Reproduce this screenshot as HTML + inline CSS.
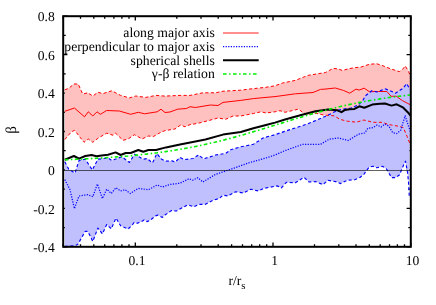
<!DOCTYPE html>
<html><head><meta charset="utf-8"><title>plot</title>
<style>html,body{margin:0;padding:0;background:#fff}svg{display:block}.t,.t text,.t tspan{font-family:"Liberation Serif",serif;text-rendering:geometricPrecision}</style></head>
<body>
<svg width="436" height="305" viewBox="0 0 436 305">
<defs><clipPath id="c"><rect x="63.2" y="16.2" width="347.6" height="230.6"/></clipPath></defs>
<rect width="436" height="305" fill="#fff"/>
<path d="M63.2 246.8h4.2 M410.8 246.8h-4.2 M63.2 227.6h2.5 M410.8 227.6h-2.5 M63.2 208.4h4.2 M410.8 208.4h-4.2 M63.2 189.1h2.5 M410.8 189.1h-2.5 M63.2 169.9h4.2 M410.8 169.9h-4.2 M63.2 150.7h2.5 M410.8 150.7h-2.5 M63.2 131.5h4.2 M410.8 131.5h-4.2 M63.2 112.3h2.5 M410.8 112.3h-2.5 M63.2 93.1h4.2 M410.8 93.1h-4.2 M63.2 73.8h2.5 M410.8 73.8h-2.5 M63.2 54.6h4.2 M410.8 54.6h-4.2 M63.2 35.4h2.5 M410.8 35.4h-2.5 M63.2 16.2h4.2 M410.8 16.2h-4.2 M63.2 246.8v-2.5 M63.2 16.2v2.5 M80.5 246.8v-2.5 M80.5 16.2v2.5 M93.8 246.8v-2.5 M93.8 16.2v2.5 M104.7 246.8v-2.5 M104.7 16.2v2.5 M113.9 246.8v-2.5 M113.9 16.2v2.5 M121.9 246.8v-2.5 M121.9 16.2v2.5 M129.0 246.8v-2.5 M129.0 16.2v2.5 M135.3 246.8v-4.2 M135.3 16.2v4.2 M176.8 246.8v-2.5 M176.8 16.2v2.5 M201.0 246.8v-2.5 M201.0 16.2v2.5 M218.2 246.8v-2.5 M218.2 16.2v2.5 M231.6 246.8v-2.5 M231.6 16.2v2.5 M242.5 246.8v-2.5 M242.5 16.2v2.5 M251.7 246.8v-2.5 M251.7 16.2v2.5 M259.7 246.8v-2.5 M259.7 16.2v2.5 M266.7 246.8v-2.5 M266.7 16.2v2.5 M273.0 246.8v-4.2 M273.0 16.2v4.2 M314.5 246.8v-2.5 M314.5 16.2v2.5 M338.8 246.8v-2.5 M338.8 16.2v2.5 M356.0 246.8v-2.5 M356.0 16.2v2.5 M369.3 246.8v-2.5 M369.3 16.2v2.5 M380.2 246.8v-2.5 M380.2 16.2v2.5 M389.5 246.8v-2.5 M389.5 16.2v2.5 M397.4 246.8v-2.5 M397.4 16.2v2.5 M404.5 246.8v-2.5 M404.5 16.2v2.5 M410.8 246.8v-4.2 M410.8 16.2v4.2" stroke="#000" stroke-width="1.3" fill="none"/>
<g clip-path="url(#c)" fill="none" stroke-linejoin="round">
<polygon fill="#ffc0c0" points="64.8,89.8 68.8,88.3 73.9,84.0 78.2,84.0 82.7,94.0 87.8,92.8 92.8,96.0 97.9,92.3 103.0,93.6 111.8,90.8 120.6,95.4 129.4,97.9 135.8,96.0 145.9,97.4 156.0,95.4 165.0,96.1 180.0,95.4 190.0,95.4 203.0,92.8 215.5,92.8 223.0,91.2 240.8,90.2 248.3,89.2 266.0,87.3 275.0,85.8 282.6,83.0 295.3,80.4 307.9,75.4 325.6,72.5 329.1,70.5 333.3,68.4 338.4,69.0 342.5,70.5 347.7,69.0 353.9,67.8 361.1,67.0 369.4,64.3 376.6,63.7 382.8,65.7 391.1,69.0 399.3,71.6 402.4,69.5 405.3,65.9 408.6,71.5 410.4,76.0 410.4,145.0 407.2,136.7 403.3,127.6 399.4,126.4 388.9,124.6 382.3,122.3 373.0,122.3 364.0,120.0 356.3,122.2 347.3,121.2 340.1,119.4 334.0,115.8 330.6,115.6 324.0,115.1 316.0,113.3 309.0,114.6 303.5,113.1 298.6,109.1 285.0,112.3 280.0,110.7 275.0,111.8 266.0,113.0 261.0,111.8 253.4,113.5 240.8,116.0 233.0,116.0 225.6,119.3 218.0,118.0 210.0,120.2 200.0,122.8 194.0,124.0 190.0,124.6 185.0,126.8 180.6,125.0 175.0,129.0 170.0,129.8 165.0,130.6 161.0,132.2 153.4,136.5 148.4,136.0 142.0,139.0 134.5,134.7 128.0,139.0 123.0,140.3 115.6,133.2 113.0,135.3 106.7,133.2 97.9,138.3 92.8,142.3 88.3,139.0 84.0,142.3 74.6,130.3 71.2,132.0 64.8,139.6"/>
<polygon fill="#c0c0ff" points="64.8,161.8 68.8,169.3 75.0,173.0 79.0,160.5 85.3,159.2 92.3,170.0 97.9,159.2 108.0,158.0 111.8,160.5 121.9,156.7 129.4,162.5 134.5,154.2 143.3,159.2 147.0,158.5 152.5,163.0 156.9,153.6 161.7,159.3 165.7,161.2 172.1,160.9 175.3,162.0 180.1,157.3 184.1,159.6 193.0,158.5 198.6,154.9 203.4,158.9 210.0,156.9 215.5,155.0 225.6,153.4 230.7,149.8 240.8,146.8 253.4,144.3 263.5,137.8 275.0,134.7 287.7,130.4 307.9,123.8 325.6,116.3 338.2,110.0 350.8,108.0 358.4,105.0 363.4,99.6 365.2,96.0 371.8,90.7 377.0,92.0 385.0,88.8 390.2,90.7 395.4,93.3 403.3,88.0 406.7,83.6 410.0,89.4 409.3,197.0 408.5,182.0 407.4,171.5 405.5,161.2 403.3,165.7 399.4,175.0 395.4,177.6 391.5,177.6 386.2,168.4 382.3,166.3 377.0,167.8 373.0,166.3 369.2,167.0 364.0,174.1 360.0,177.5 354.6,179.8 347.0,180.3 340.7,183.6 335.7,181.6 328.0,180.3 323.0,184.6 315.5,181.6 309.0,182.0 304.0,177.3 295.3,182.8 286.4,182.3 281.4,187.9 277.6,185.9 270.0,187.2 263.5,188.4 258.4,191.0 250.9,189.2 243.3,193.0 235.7,191.7 228.0,196.0 223.0,195.2 219.3,198.5 213.0,200.3 205.4,204.3 199.0,204.3 194.0,206.8 187.7,204.8 176.4,211.0 171.3,210.6 168.2,212.8 165.0,215.0 162.4,217.4 157.8,215.1 155.6,215.9 149.8,220.5 147.0,221.6 144.1,219.9 141.2,221.6 137.2,223.3 134.3,222.4 132.6,224.5 128.0,229.1 120.6,225.8 116.0,218.0 111.3,228.8 106.7,224.5 102.4,233.9 97.9,228.0 92.8,241.4 87.8,231.3 85.3,231.3 77.7,244.5 75.0,245.6 70.0,246.2 64.8,246.2"/>
<polyline stroke="#ff0000" stroke-width="1" points="64.8,111.3 74.4,108.0 84.5,116.8 88.3,111.8 92.8,116.0 97.0,111.8 100.4,114.3 106.7,110.5 119.3,111.0 130.7,114.3 138.3,112.3 144.6,113.8 157.2,111.8 161.0,109.2 165.0,112.5 170.0,112.0 177.6,109.2 186.5,108.5 190.0,106.7 195.3,107.5 210.5,105.0 218.0,105.5 223.0,102.4 240.8,100.4 253.4,98.6 266.0,97.4 275.0,96.6 295.3,93.8 313.0,92.5 320.5,89.4 325.0,89.1 335.3,88.0 343.6,90.5 349.8,93.2 356.0,89.1 359.1,90.1 364.2,88.2 369.4,91.7 378.7,91.5 386.9,91.5 391.1,96.3 396.2,96.2 402.4,100.6 410.4,104.8"/>
<polyline stroke="#ff0000" stroke-width="1.0" stroke-dasharray="3.2,2.3" points="64.8,89.8 68.8,88.3 73.9,84.0 78.2,84.0 82.7,94.0 87.8,92.8 92.8,96.0 97.9,92.3 103.0,93.6 111.8,90.8 120.6,95.4 129.4,97.9 135.8,96.0 145.9,97.4 156.0,95.4 165.0,96.1 180.0,95.4 190.0,95.4 203.0,92.8 215.5,92.8 223.0,91.2 240.8,90.2 248.3,89.2 266.0,87.3 275.0,85.8 282.6,83.0 295.3,80.4 307.9,75.4 325.6,72.5 329.1,70.5 333.3,68.4 338.4,69.0 342.5,70.5 347.7,69.0 353.9,67.8 361.1,67.0 369.4,64.3 376.6,63.7 382.8,65.7 391.1,69.0 399.3,71.6 402.4,69.5 405.3,65.9 408.6,71.5 410.4,76.0"/>
<polyline stroke="#ff0000" stroke-width="1.0" stroke-dasharray="3.2,2.3" points="64.8,139.6 71.2,132.0 74.6,130.3 84.0,142.3 88.3,139.0 92.8,142.3 97.9,138.3 106.7,133.2 113.0,135.3 115.6,133.2 123.0,140.3 128.0,139.0 134.5,134.7 142.0,139.0 148.4,136.0 153.4,136.5 161.0,132.2 165.0,130.6 170.0,129.8 175.0,129.0 180.6,125.0 185.0,126.8 190.0,124.6 194.0,124.0 200.0,122.8 210.0,120.2 218.0,118.0 225.6,119.3 233.0,116.0 240.8,116.0 253.4,113.5 261.0,111.8 266.0,113.0 275.0,111.8 280.0,110.7 285.0,112.3 298.6,109.1 303.5,113.1 309.0,114.6 316.0,113.3 324.0,115.1 330.6,115.6 334.0,115.8 340.1,119.4 347.3,121.2 356.3,122.2 364.0,120.0 373.0,122.3 382.3,122.3 388.9,124.6 399.4,126.4 403.3,127.6 407.2,136.7 410.4,145.0"/>
<polyline stroke="#0000ff" stroke-width="1.25" stroke-dasharray="1.2,1.4" points="64.8,179.6 70.0,189.7 74.4,208.6 79.0,196.0 87.8,194.7 92.8,196.7 97.4,184.0 102.4,198.5 106.7,189.2 111.3,193.5 116.0,187.7 120.6,191.0 125.0,189.7 130.2,193.5 138.3,188.4 148.4,189.7 157.2,185.0 162.3,187.0 170.0,184.5 180.0,183.2 189.0,178.7 192.8,180.2 197.8,177.7 202.9,182.0 215.5,174.4 230.7,169.3 248.3,163.0 266.0,158.0 275.0,155.0 285.0,150.6 302.8,144.3 320.5,144.3 329.3,139.2 338.2,138.0 348.3,140.5 358.4,134.2 364.7,133.0 367.9,128.3 373.0,127.6 377.0,125.0 381.0,127.0 385.0,124.0 388.9,126.2 392.8,132.8 396.7,133.6 400.7,130.2 405.1,115.7 408.5,126.2 410.4,131.5"/>
<polyline stroke="#0000ff" stroke-width="1.15" stroke-dasharray="3.1,2.4" points="64.8,161.8 68.8,169.3 75.0,173.0 79.0,160.5 85.3,159.2 92.3,170.0 97.9,159.2 108.0,158.0 111.8,160.5 121.9,156.7 129.4,162.5 134.5,154.2 143.3,159.2 147.0,158.5 152.5,163.0 156.9,153.6 161.7,159.3 165.7,161.2 172.1,160.9 175.3,162.0 180.1,157.3 184.1,159.6 193.0,158.5 198.6,154.9 203.4,158.9 210.0,156.9 215.5,155.0 225.6,153.4 230.7,149.8 240.8,146.8 253.4,144.3 263.5,137.8 275.0,134.7 287.7,130.4 307.9,123.8 325.6,116.3 338.2,110.0 350.8,108.0 358.4,105.0 363.4,99.6 365.2,96.0 371.8,90.7 377.0,92.0 385.0,88.8 390.2,90.7 395.4,93.3 403.3,88.0 406.7,83.6 410.0,89.4"/>
<polyline stroke="#0000ff" stroke-width="1.15" stroke-dasharray="3.1,2.4" points="64.8,246.2 70.0,246.2 75.0,245.6 77.7,244.5 85.3,231.3 87.8,231.3 92.8,241.4 97.9,228.0 102.4,233.9 106.7,224.5 111.3,228.8 116.0,218.0 120.6,225.8 128.0,229.1 132.6,224.5 134.3,222.4 137.2,223.3 141.2,221.6 144.1,219.9 147.0,221.6 149.8,220.5 155.6,215.9 157.8,215.1 162.4,217.4 165.0,215.0 168.2,212.8 171.3,210.6 176.4,211.0 187.7,204.8 194.0,206.8 199.0,204.3 205.4,204.3 213.0,200.3 219.3,198.5 223.0,195.2 228.0,196.0 235.7,191.7 243.3,193.0 250.9,189.2 258.4,191.0 263.5,188.4 270.0,187.2 277.6,185.9 281.4,187.9 286.4,182.3 295.3,182.8 304.0,177.3 309.0,182.0 315.5,181.6 323.0,184.6 328.0,180.3 335.7,181.6 340.7,183.6 347.0,180.3 354.6,179.8 360.0,177.5 364.0,174.1 369.2,167.0 373.0,166.3 377.0,167.8 382.3,166.3 386.2,168.4 391.5,177.6 395.4,177.6 399.4,175.0 403.3,165.7 405.5,161.2 407.4,171.5 408.5,182.0 409.3,197.0"/>
<polyline stroke="#000" stroke-width="2.0" points="64.8,159.7 73.9,156.0 79.0,158.7 85.3,156.0 91.6,155.0 96.6,156.2 101.7,155.5 108.0,154.7 115.6,152.4 120.6,155.0 125.7,153.0 130.7,153.0 138.3,150.0 143.3,151.7 148.4,150.0 156.0,150.0 166.0,147.4 180.0,144.4 192.8,142.0 205.4,139.5 223.0,134.6 240.8,132.0 253.4,128.2 266.0,125.0 275.0,122.6 285.0,119.5 300.3,115.2 315.5,111.3 328.0,109.6 337.4,110.3 341.5,112.2 345.0,109.9 349.5,109.2 354.5,108.9 359.4,106.3 364.3,107.7 372.3,104.6 380.0,103.7 385.0,103.5 391.5,105.6 396.7,104.3 403.3,107.7 408.5,113.0 410.4,115.6"/>
<polyline stroke="#00ee00" stroke-width="1.65" stroke-dasharray="3.6,2.5,1.5,2.4" points="64.8,159.7 67.7,159.6 70.6,159.5 73.4,159.4 76.3,159.3 79.2,159.2 82.1,159.0 85.0,158.9 87.8,158.7 90.7,158.6 93.6,158.4 96.5,158.3 99.4,158.1 102.2,157.9 105.1,157.7 108.0,157.5 110.9,157.3 113.8,157.1 116.6,156.9 119.5,156.7 122.4,156.5 125.3,156.2 128.2,156.0 131.0,155.7 133.9,155.4 136.8,155.1 139.7,154.8 142.6,154.5 145.4,154.2 148.3,153.9 151.2,153.5 154.1,153.1 157.0,152.8 159.8,152.4 162.7,152.0 165.6,151.6 168.5,151.2 171.4,150.7 174.2,150.3 177.1,149.8 180.0,149.3 182.9,148.8 185.8,148.3 188.6,147.8 191.5,147.2 194.4,146.7 197.3,146.1 200.2,145.5 203.0,144.9 205.9,144.2 208.8,143.6 211.7,142.9 214.6,142.3 217.4,141.6 220.3,140.9 223.2,140.2 226.1,139.4 229.0,138.7 231.8,137.9 234.7,137.1 237.6,136.3 240.5,135.5 243.4,134.7 246.2,133.9 249.1,133.0 252.0,132.2 254.9,131.3 257.8,130.5 260.6,129.6 263.5,128.7 266.4,127.8 269.3,126.9 272.2,126.0 275.0,125.2 277.9,124.3 280.8,123.4 283.7,122.5 286.6,121.6 289.4,120.7 292.3,119.8 295.2,118.9 298.1,118.0 301.0,117.2 303.8,116.3 306.7,115.5 309.6,114.6 312.5,113.8 315.4,113.0 318.2,112.2 321.1,111.4 324.0,110.6 326.9,109.9 329.8,109.1 332.6,108.4 335.5,107.7 338.4,107.0 341.3,106.3 344.2,105.7 347.0,105.0 349.9,104.4 352.8,103.8 355.7,103.2 358.6,102.6 361.4,102.1 364.3,101.5 367.2,101.0 370.1,100.5 373.0,100.0 375.8,99.5 378.7,99.1 381.6,98.6 384.5,98.2 387.4,97.8 390.2,97.4 393.1,97.0 396.0,96.6 398.9,96.3 401.8,96.0 404.6,95.6 407.5,95.3 410.4,95.0"/>
<line x1="63.2" x2="410.8" y1="170.5" y2="170.5" stroke="#000" stroke-opacity="0.62" stroke-width="1"/>
</g>
<line x1="223.0" x2="258.7" y1="32.95" y2="32.95" stroke="#ff2020" stroke-width="1.1"/>
<line x1="223.0" x2="258.7" y1="46.5" y2="46.5" stroke="#0000ff" stroke-width="1.25" stroke-dasharray="1.2,1.4"/>
<line x1="223.0" x2="258.7" y1="60.2" y2="60.2" stroke="#000" stroke-width="2.0"/>
<line x1="223.0" x2="258.7" y1="74.0" y2="74.0" stroke="#00ee00" stroke-width="1.65" stroke-dasharray="3.6,2.5,1.5,2.4"/>
<rect x="63.2" y="16.2" width="347.6" height="230.6" fill="none" stroke="#000" stroke-width="2"/>
<g class="t" font-size="13.60" fill="#000" style="filter:grayscale(1)">
<text x="54.8" y="252.0" text-anchor="end">-0.4</text>
<text x="54.8" y="213.8" text-anchor="end">-0.2</text>
<text x="54.8" y="174.9" text-anchor="end">0</text>
<text x="54.8" y="136.6" text-anchor="end">0.2</text>
<text x="54.8" y="98.0" text-anchor="end">0.4</text>
<text x="54.8" y="59.6" text-anchor="end">0.6</text>
<text x="54.8" y="20.9" text-anchor="end">0.8</text>
<text x="137.0" y="265.1" text-anchor="middle">0.1</text>
<text x="274.7" y="265.1" text-anchor="middle">1</text>
<text x="412.5" y="265.1" text-anchor="middle">10</text>
<text x="214.8" y="37.2" text-anchor="end" font-size="13.72">along major axis</text>
<text x="214.8" y="50.9" text-anchor="end" font-size="13.72">perpendicular to major axis</text>
<text x="214.8" y="64.6" text-anchor="end" font-size="13.72">spherical shells</text>
<text x="214.8" y="78.4" text-anchor="end" font-size="13.72">γ-β relation</text>
<text x="228.4" y="285.0">r/r<tspan dy="3.7" font-size="10.8">s</tspan></text>
<text transform="translate(16.0,130) rotate(-90)" text-anchor="middle" font-size="15">β</text>
</g>
</svg>
</body></html>
